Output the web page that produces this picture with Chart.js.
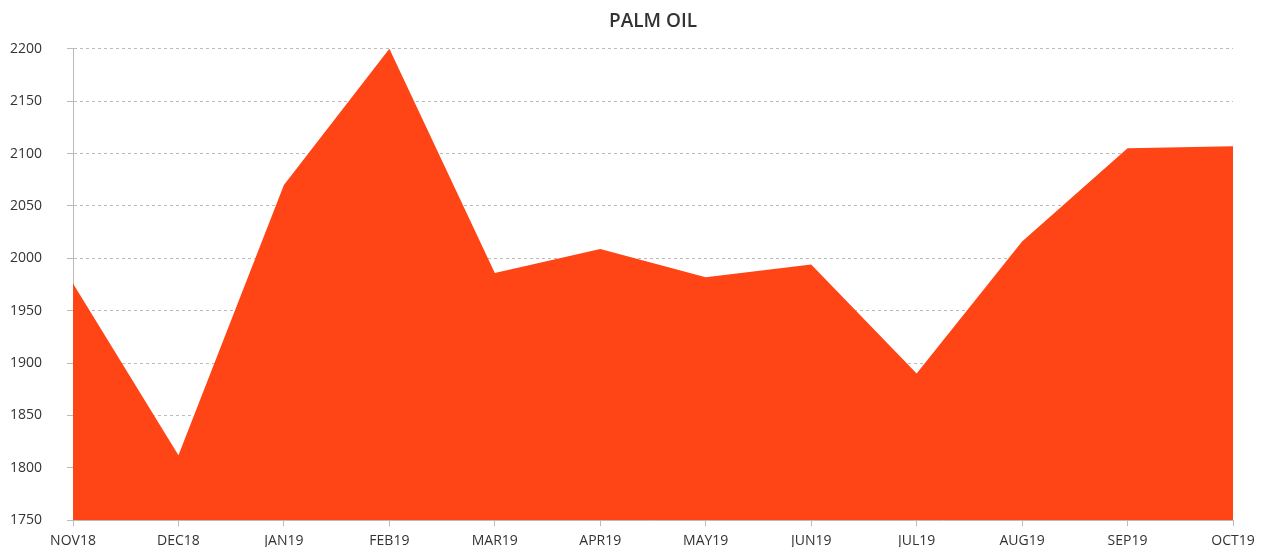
<!DOCTYPE html>
<html>
<head>
<meta charset="utf-8">
<script src="https://cdn.jsdelivr.net/npm/chart.js@4/dist/chart.umd.min.js"></script>
<style>
  html, body { margin: 0; padding: 0; background: #fff; }
  #wrap { width: 1268px; height: 547px; }
</style>
</head>
<body>
<div id="wrap"><canvas id="palmChart"></canvas></div>
<script>
// palm oil monthly prices
const months = ["NOV18", "DEC18", "JAN19", "FEB19", "MAR19", "APR19", "MAY19", "JUN19",
    "JUL19", "AUG19", "SEP19", "OCT19"];
const prices = [1976, 1812, 2070, 2200, 1986, 2009, 1982, 1994, 1890, 2016, 2105, 2107];
const yTicks = [1750, 1800, 1850, 1900, 1950, 2000, 2050, 2100, 2150, 2200];

const ctx = document.getElementById("palmChart");

new Chart(ctx, {
    type: "line",
    data: {
        labels: months,
        datasets: [{
            label: "Palm oil",
            data: prices,
            fill: "start",
            backgroundColor: "#ff4416",
            borderWidth: 0,
            pointRadius: 0,
            tension: 0,
        }, ],
    },
    options: {
        responsive: true,
        maintainAspectRatio: false,
        animation: false,
        layout: {
            padding: { left: 10, right: 35, top: 0, bottom: -8 },
        },
        plugins: {
            legend: { display: false },
            tooltip: { enabled: false },
            title: {
                display: true,
                fullSize: false,
                text: "PALM OIL",
                color: "#333",
                font: { family: "Open Sans", size: 19, weight: "600" },
                padding: { top: 10, bottom: 16 },
            },
        },
        scales: {
            x: {
                offset: false,
                border: { color: "#bbb", width: 1 },
                grid: { drawOnChartArea: false, drawTicks: true, tickLength: 6, color: "#bbb" },
                ticks: {
                    color: "#333",
                    font: { family: "Open Sans", size: 14 },
                    maxRotation: 0,
                    padding: 6,
                },
            },
            y: {
                min: 1750,
                max: 2200,
                afterBuildTicks: axis => {
                    axis.ticks = yTicks.map(v => ({ value: v }));
                },
                // fixed width so labels sit at the left edge like the original
                afterFit: axis => {
                    axis.width = 63;
                },
                border: { color: "#bbb", width: 1, dash: [3, 3] },
                grid: {
                    color: "#bbb",
                    tickBorderDash: [],
                    tickLength: 6,
                    tickColor: "#bbb",
                },
                ticks: {
                    color: "#333",
                    font: { family: "Open Sans", size: 14 },
                    padding: 4,
                    crossAlign: "far",
                    callback: v => String(v),
                },
            },
        },
    },
});
</script>
</body>
</html>
